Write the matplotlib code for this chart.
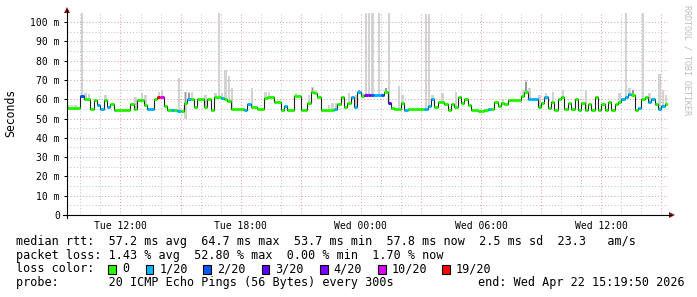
import numpy as np
import pandas as pd
import matplotlib
matplotlib.use("Agg")
import matplotlib.pyplot as plt
import matplotlib.dates as mdates
from matplotlib.lines import Line2D
from matplotlib.patches import Polygon, Rectangle
from datetime import datetime, timedelta

# ---------------- data ----------------
start = datetime(2026, 4, 21, 9, 19, 50)
end = datetime(2026, 4, 22, 15, 19, 50)
step_minutes = 10

median_ms = [
    55.5, 55.5, 55.5, 55.5, 61.5, 60, 60, 55, 59.5, 57,
    55, 59.5, 56, 57.5, 54.5, 54.5, 54.5, 54.5, 54.5, 57.5,
    55, 59.5, 59.5, 57, 55, 55, 60, 61, 61, 56.5,
    54.5, 54.5, 54.5, 54, 54, 58, 60, 60, 56, 60,
    60, 56, 60, 54.5, 61, 61, 60.5, 60, 59, 55,
    55, 55, 55, 54.5, 57.5, 56, 56, 55, 55, 60.5,
    61, 61, 58.5, 58.5, 54.5, 56.5, 54.5, 54.5, 61.5, 61.5,
    54.5, 54.5, 58, 63.5, 63, 61, 54.5, 54.5, 54.5, 54.5,
    55, 57.5, 61, 56, 58, 61, 56, 63.5, 61.5, 62,
    62, 62, 62, 62, 62, 63.5, 58, 55.5, 55, 55,
    58, 54.5, 55, 55, 55, 55, 55, 55, 56.5, 60,
    56, 58.5, 58.5, 57.5, 54.5, 57.5, 56, 61, 58, 60,
    57, 54.5, 54.5, 54, 54, 54.5, 55, 55, 58.5, 56.5,
    58, 57.5, 59.5, 59.5, 59.5, 59.5, 61.5, 64, 60, 60,
    60, 56, 58, 61, 55.5, 58.5, 54.5, 60, 61, 55,
    58, 55, 60, 54.5, 58, 54.5, 57.5, 54.5, 61, 54.5,
    57.5, 54.5, 58.5, 54.5, 57.5, 58.5, 60, 61, 62.5, 62,
    54.5, 55.5, 60, 61, 58.5, 60, 57.5, 55, 56.5, 57.5,
    57.5,
]

# loss level index: 0 -> 0, 1 -> 1/20, 2 -> 2/20, 3 -> 3/20, 4 -> 4/20, 5 -> 10/20, 6 -> 19/20
loss_level = [
    0, 0, 0, 0, 2, 0, 0, 0, 0, 1,
    1, 0, 1, 0, 0, 0, 0, 0, 0, 0,
    0, 0, 0, 0, 1, 1, 0, 6, 5, 0,
    0, 1, 0, 1, 0, 0, 1, 0, 0, 0,
    0, 0, 0, 0, 0, 0, 1, 0, 0, 0,
    0, 0, 0, 1, 1, 0, 0, 0, 0, 0,
    0, 0, 0, 0, 0, 1, 0, 0, 0, 0,
    0, 0, 0, 0, 0, 0, 0, 0, 0, 0,
    1, 0, 0, 0, 0, 1, 1, 1, 0, 4,
    4, 2, 1, 1, 2, 0, 3, 0, 0, 0,
    0, 1, 0, 0, 0, 0, 0, 1, 1, 1,
    0, 0, 0, 0, 0, 0, 0, 0, 0, 0,
    0, 0, 0, 0, 0, 0, 1, 0, 0, 0,
    0, 0, 0, 0, 0, 0, 0, 0, 1, 1,
    1, 0, 0, 1, 0, 0, 0, 0, 0, 0,
    0, 0, 0, 0, 0, 0, 0, 0, 0, 0,
    0, 0, 0, 0, 0, 0, 1, 1, 1, 0,
    0, 1, 0, 0, 1, 1, 0, 1, 1, 0,
    1,
]

# smoke (spread of the pings): slots with a visible upper spread, and their top
smoke_idx = [0, 1, 2, 4, 5, 6, 11, 20, 22, 23, 27, 28, 33, 35, 36, 37, 41, 44, 45, 46,
             47, 48, 49, 55, 59, 60, 68, 72, 73, 74, 78, 79, 80, 84, 86, 87, 88, 89, 90, 91,
             93, 95, 96, 99, 100, 107, 108, 109, 112, 116, 130, 136, 137, 138, 141, 143, 145,
             148, 155, 165, 167, 168, 172, 174, 177, 178, 179]
smoke_top = [57, 57, 57, 105, 63, 62.5, 62, 61, 63, 62, 64, 65, 71, 64, 64, 63.5, 62, 63, 105, 63,
             75, 72, 66, 66, 64, 63.5, 63, 62, 66.5, 65, 57, 58, 58, 63, 62, 65, 63, 105, 105, 105,
             105, 66, 105, 67, 62, 104, 104, 62, 63, 63.5, 60, 65, 70, 66, 62, 63, 64,
             65, 65, 63, 105, 66, 105, 63, 73, 65, 62]
# darker inner smoke
dark_idx = [35, 36, 73, 87, 95, 137, 169]
dark_top = [64, 63, 66, 65, 66, 69, 65]
low_idx = [35]
low_val = [50]

loss_labels = ["0", "1/20", "2/20", "3/20", "4/20", "10/20", "19/20"]
loss_colors = ["#26ff00", "#00b8ff", "#0059ff", "#5e00ff", "#7e00ff", "#dd00ff", "#ff0000"]

y_ticks = [0, 10, 20, 30, 40, 50, 60, 70, 80, 90, 100]

legend_rtt = "median rtt:  57.2 ms avg  64.7 ms max  53.7 ms min  57.8 ms now  2.5 ms sd  23.3   am/s"
legend_loss = "packet loss: 1.43 % avg  52.80 % max  0.00 % min  1.70 % now"
legend_probe = "probe:       20 ICMP Echo Pings (56 Bytes) every 300s"
legend_end = "end: Wed Apr 22 15:19:50 2026"

# ---------------- figure ----------------
W, H = 697, 297
fig = plt.figure(figsize=(W / 100, H / 100), dpi=100)
fig.patch.set_facecolor("white")

def fx(px):
    return px / W

def fy(py):
    return 1 - py / H

ax_l, ax_r, ax_t, ax_b = 67, 668, 13, 215
ax = fig.add_axes([fx(ax_l), fy(ax_b), fx(ax_r - ax_l), (ax_b - ax_t) / H])
ax.set_facecolor("white")

n = len(median_ms)
times = pd.date_range(start, periods=n + 1, freq=f"{step_minutes}min")
tnum = mdates.date2num(times.to_pydatetime())
med = np.array(median_ms, dtype=float)

ymax = 104.7
light = "#d2d2d2"
darkc = "#9a9a9a"

# smoke
for i, top in zip(smoke_idx, smoke_top):
    lo = med[i] - 0.5
    ax.fill_between([tnum[i] + 0.15 * (tnum[1] - tnum[0]), tnum[i + 1] - 0.15 * (tnum[1] - tnum[0])],
                    lo, min(top, ymax), color=light, lw=0, zorder=2)
for i, lo in zip(low_idx, low_val):
    ax.fill_between([tnum[i], tnum[i + 1]], lo, med[i], color=light, lw=0, zorder=2)
for i, top in zip(dark_idx, dark_top):
    ax.fill_between([tnum[i] + 0.25 * (tnum[1] - tnum[0]), tnum[i + 1] - 0.25 * (tnum[1] - tnum[0])],
                    med[i], min(top, ymax), color=darkc, lw=0, zorder=2.5)

# median line: dark step connectors + coloured loss segments
ax.step(tnum, np.append(med, med[-1]), where="post", color="#202020", lw=0.8, zorder=3)
for i in range(n):
    ax.plot([tnum[i], tnum[i + 1]], [med[i], med[i]], color=loss_colors[loss_level[i]],
            lw=2.2, solid_capstyle="butt", zorder=4)

# axes range / grid
ax.set_xlim(mdates.date2num(start), mdates.date2num(end))
ax.set_ylim(0, ymax)
ax.xaxis.set_major_locator(mdates.HourLocator(byhour=range(0, 24, 3)))
ax.xaxis.set_minor_locator(mdates.HourLocator())

def xfmt(v, pos):
    d = mdates.num2date(v)
    if d.hour % 6 == 0:
        return d.strftime("%a %H:%M")
    return ""

ax.xaxis.set_major_formatter(plt.FuncFormatter(xfmt))
ax.set_yticks(y_ticks)
ax.set_yticklabels([("%d m" % v) if v else "0" for v in y_ticks])
ax.set_yticks(np.arange(5, 105, 10), minor=True)

ax.set_axisbelow(True)
ax.grid(which="major", color="#e3a3a3", linestyle=(0, (1, 2)), lw=0.75)
ax.grid(which="minor", color="#c6c6c6", linestyle=(0, (1, 2)), lw=0.75)

for s in ax.spines.values():
    s.set_visible(False)

mono = "DejaVu Sans Mono"
ax.tick_params(which="major", length=2.2, width=0.75, color="black", labelsize=7, pad=3)
ax.tick_params(axis="x", which="major", length=0, pad=4)
ax.tick_params(which="minor", length=0)
for lab in ax.get_xticklabels() + ax.get_yticklabels():
    lab.set_family(mono)

# axis lines and arrows
fig.add_artist(Line2D([fx(ax_l), fx(ax_l)], [fy(218), fy(10)], color="black", lw=0.8))
fig.add_artist(Line2D([fx(63), fx(671)], [fy(ax_b), fy(ax_b)], color="black", lw=0.8))
arrow_c = "#7f1414"
fig.add_artist(Polygon([[fx(64), fy(13)], [fx(70), fy(13)], [fx(67), fy(7)]], closed=True,
                       color=arrow_c, lw=0))
fig.add_artist(Polygon([[fx(669), fy(212)], [fx(669), fy(218)], [fx(675), fy(215)]], closed=True,
                       color=arrow_c, lw=0))

# y label
fig.text(fx(11), fy(113), "Seconds", rotation=90, ha="center", va="center", fontsize=8.3, family=mono)
# watermark
fig.text(fx(687.5), fy(60), "RRDTOOL / TOBI OETIKER", rotation=270, ha="center", va="center",
         fontsize=6, family=mono, color="#bdbdbd")

# legend text
fs = 8.45
x0 = 16
fig.text(fx(x0), fy(241.7), legend_rtt, ha="left", va="center", fontsize=fs, family=mono)
fig.text(fx(x0), fy(255.0), legend_loss, ha="left", va="center", fontsize=fs, family=mono)
fig.text(fx(x0), fy(269.0), "loss color:", ha="left", va="center", fontsize=fs, family=mono)
fig.text(fx(x0), fy(282.3), legend_probe, ha="left", va="center", fontsize=fs, family=mono)
fig.text(fx(478), fy(282.3), legend_end, ha="left", va="center", fontsize=fs, family=mono)

sq_x = [108.3, 145.7, 203.3, 261.7, 320.0, 378.3, 442.3]
txt_gap = 13.7
for x, lab, col in zip(sq_x, loss_labels, loss_colors):
    fig.add_artist(Rectangle((fx(x), fy(273.5)), 7.5 / W, 8.5 / H, facecolor=col,
                             edgecolor="black", lw=0.8))
    fig.text(fx(x + txt_gap), fy(269.0), lab, ha="left", va="center", fontsize=fs, family=mono)

fig.savefig("out.png", dpi=100, facecolor="white")
